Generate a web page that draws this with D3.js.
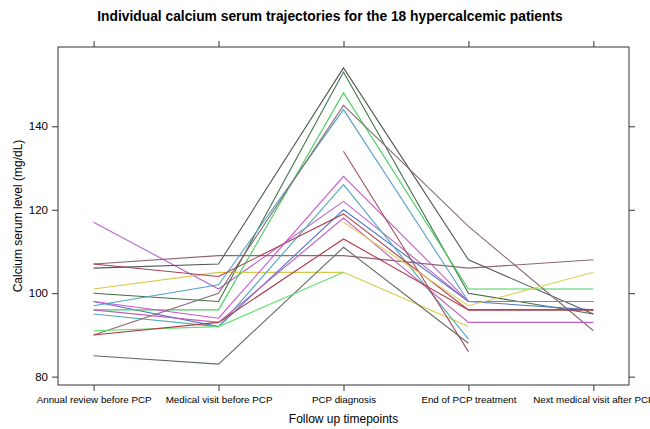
<!DOCTYPE html>
<html><head><meta charset="utf-8">
<script src="https://cdn.jsdelivr.net/npm/d3@7"></script>
<style>body{margin:0;background:#fff}svg{display:block}text{font-family:"Liberation Sans",Arial,sans-serif}</style>
</head><body><svg id="c" width="650" height="429"></svg>
<script>
const timepoints = ["Annual review before PCP","Medical visit before PCP","PCP diagnosis","End of PCP treatment","Next medical visit after PCP"];
const yTicks = [80, 100, 120, 140];
const patients = ["P1","P2","P3","P4","P5","P6","P7","P8","P9","P10","P11","P12","P13","P14","P15","P16","P17","P18"];
const colors = ["#b868c8","#906474","#505a50","#3f6f45","#d8c848","#5078c8","#58a0c8","#48d060","#50a8b8","#a84050","#8a6a70","#d050d0","#c060b8","#607060","#60e070","#b03848","#a05060","#e0d060"];
const calcium = [
  [117, 101, 122,  98,  98],
  [107, 109, 109, 106, 108],
  [106, 107, 154, 108,  95],
  [100,  98, 153, 100,  95],
  [101, 105, 105,  92, null],
  [ 98,  92, 120,  98,  96],
  [ 97, 102, 144,  98,  98],
  [ 96,  96, 148, 101, 101],
  [ 95,  92, 126,  89, null],
  [107, 104, 119,  96,  96],
  [ 90, 100, 145, 116,  91],
  [ 98,  94, 128,  98,  98],
  [ 96,  93, 118,  93,  93],
  [ 85,  83, 111,  88, null],
  [ 91,  92, 105, null, null],
  [ 90,  93, 113,  96,  96],
  [null, null, 134, 86, null],
  [null, null, 117, 97, 105]
];

const svg = d3.select("#c");
const L = 58, R = 629, T = 47, B = 385;
const x = d3.scaleLinear().domain([-0.285, 4.285]).range([L, R]);
const y = d3.scaleLinear().domain([78, 159]).range([B, T]);

svg.append("text").attr("x", 330).attr("y", 21).attr("text-anchor","middle")
  .attr("font-size", 13.8).attr("font-weight","bold").attr("fill","#000")
  .text("Individual calcium serum trajectories for the 18 hypercalcemic patients");

const idx = d3.range(timepoints.length);
const axCol = "#333";
const gB = svg.append("g").attr("transform",`translate(0,${B})`)
  .call(d3.axisBottom(x).tickValues(idx).tickFormat(i => timepoints[i]).tickSizeInner(6).tickSizeOuter(0).tickPadding(5));
const gT = svg.append("g").attr("transform",`translate(0,${T})`)
  .call(d3.axisTop(x).tickValues(idx).tickFormat("").tickSizeInner(6).tickSizeOuter(0));
const gLft = svg.append("g").attr("transform",`translate(${L},0)`)
  .call(d3.axisLeft(y).tickValues(yTicks).tickSizeInner(6).tickSizeOuter(0).tickPadding(4));
const gRt = svg.append("g").attr("transform",`translate(${R},0)`)
  .call(d3.axisRight(y).tickValues(yTicks).tickFormat("").tickSizeInner(6).tickSizeOuter(0));
[gB,gT,gLft,gRt].forEach(g => {
  g.select(".domain").remove();
  g.selectAll("line").attr("stroke", axCol);
  g.selectAll("text").attr("fill","#000").attr("font-family","'Liberation Sans',Arial,sans-serif");
});
gB.selectAll("text").attr("font-size", 9.8);
gLft.selectAll("text").attr("font-size", 11.5);

svg.append("rect").attr("x", L).attr("y", T).attr("width", R-L).attr("height", B-T)
  .attr("fill","none").attr("stroke", axCol).attr("stroke-width", 1);

const line = d3.line().defined(d => d != null).x((d,i) => x(i)).y(d => y(d));
svg.append("g").selectAll("path").data(calcium).join("path")
  .attr("d", line).attr("fill","none")
  .attr("stroke", (d,i) => colors[i]).attr("stroke-width", 1.1);

svg.append("text").attr("x", (L+R)/2).attr("y", 423).attr("text-anchor","middle")
  .attr("font-size", 12).attr("fill","#000").text("Follow up timepoints");
svg.append("text").attr("transform", `translate(22,${(T+B)/2}) rotate(-90)`).attr("text-anchor","middle")
  .attr("font-size", 12).attr("fill","#000").text("Calcium serum level (mg/dL)");
</script></body></html>
